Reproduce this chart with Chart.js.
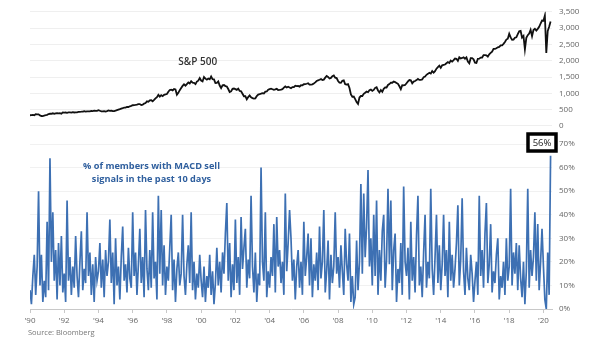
<!DOCTYPE html>
<html>
<head>
<meta charset="utf-8">
<script src="https://cdn.jsdelivr.net/npm/chart.js@4.4.1/dist/chart.umd.min.js"></script>
<style>
  body { margin: 0; background: #fff; }
  #wrap { position: relative; width: 605px; height: 341px; font-family: 'Open Sans', sans-serif; }
  canvas { position: absolute; left: 0; top: 0; }
  #source { position: absolute; left: 28px; top: 327px; font-size: 7.5px; color: #777; }
</style>
</head>
<body>
<div id="wrap">
  <canvas id="spxChart" width="605" height="341"></canvas>
  <canvas id="macdChart" width="605" height="341"></canvas>
  <div id="source">Source: Bloomberg</div>
</div>
<script>
// monthly readings, Jan 1990 .. Jun 2020
const startYear = 1990;
const yearTicks = [1990, 1992, 1994, 1996, 1998, 2000, 2002, 2004, 2006, 2008, 2010, 2012, 2014, 2016, 2018, 2020];
const spxTicks = [0, 500, 1000, 1500, 2000, 2500, 3000, 3500];
const macdTicks = [0, 10, 20, 30, 40, 50, 60, 70];
const currentReading = '56%';

const spx = [
  329, 331, 339, 331, 361, 358, 356, 323, 306, 304, 322, 330,
  343, 367, 375, 375, 390, 371, 388, 395, 388, 392, 375, 417,
  409, 413, 404, 415, 415, 408, 424, 414, 418, 419, 431, 436,
  439, 443, 452, 440, 450, 451, 448, 464, 459, 468, 462, 466,
  482, 467, 446, 451, 457, 444, 458, 475, 463, 472, 454, 459,
  470, 487, 501, 515, 533, 545, 562, 562, 584, 582, 605, 616,
  636, 640, 645, 654, 669, 671, 640, 652, 687, 705, 757, 741,
  786, 791, 757, 801, 848, 885, 954, 899, 947, 915, 955, 970,
  980, 1049, 1102, 1112, 1091, 1134, 1121, 957, 1017, 1099, 1164, 1229,
  1280, 1238, 1286, 1335, 1302, 1373, 1329, 1320, 1283, 1363, 1389, 1469,
  1394, 1366, 1499, 1452, 1421, 1455, 1431, 1518, 1437, 1429, 1315, 1320,
  1366, 1240, 1160, 1249, 1256, 1224, 1211, 1134, 1041, 1060, 1139, 1148,
  1130, 1107, 1147, 1077, 1067, 990, 912, 916, 815, 886, 936, 880,
  856, 841, 848, 917, 964, 975, 990, 1008, 996, 1051, 1058, 1112,
  1131, 1145, 1126, 1107, 1121, 1141, 1102, 1104, 1115, 1130, 1174, 1212,
  1181, 1204, 1181, 1157, 1192, 1191, 1234, 1220, 1229, 1207, 1249, 1248,
  1280, 1281, 1295, 1311, 1270, 1270, 1277, 1304, 1336, 1378, 1401, 1418,
  1438, 1407, 1421, 1482, 1531, 1503, 1455, 1474, 1527, 1549, 1481, 1468,
  1379, 1331, 1323, 1386, 1400, 1280, 1267, 1283, 1166, 969, 896, 903,
  826, 735, 676, 873, 919, 919, 987, 1021, 1057, 1036, 1096, 1115,
  1074, 1104, 1169, 1187, 1089, 1031, 1102, 1049, 1141, 1183, 1181, 1258,
  1286, 1327, 1326, 1364, 1345, 1321, 1292, 1219, 1131, 1253, 1247, 1258,
  1312, 1366, 1408, 1398, 1310, 1362, 1379, 1407, 1441, 1412, 1416, 1426,
  1498, 1515, 1569, 1598, 1631, 1606, 1686, 1633, 1682, 1757, 1806, 1848,
  1783, 1859, 1872, 1884, 1924, 1960, 1931, 2003, 1972, 2018, 2068, 2059,
  1995, 2105, 2068, 2086, 2107, 2063, 2104, 1972, 1920, 2079, 2080, 2044,
  1940, 1932, 2060, 2065, 2097, 2099, 2174, 2171, 2168, 2126, 2199, 2239,
  2279, 2364, 2363, 2384, 2412, 2423, 2470, 2472, 2519, 2575, 2648, 2674,
  2824, 2714, 2641, 2648, 2705, 2718, 2816, 2902, 2914, 2712, 2760, 2351,
  2704, 2784, 2834, 2946, 2752, 2942, 2980, 2926, 2977, 3038, 3141, 3231,
  3226, 3386, 2237, 2912, 3044, 3200
];

// % of members with MACD sell signals in the past 10 days
const macdSell = [
  8, 2, 14, 23, 6, 18, 50, 10, 23, 3, 12, 5,
  37, 8, 64, 20, 41, 12, 25, 4, 28, 10, 31, 7,
  15, 3, 46, 12, 22, 6, 18, 9, 31, 14, 5, 20,
  33, 8, 17, 11, 41, 14, 24, 6, 19, 3, 22, 12,
  16, 28, 9, 21, 5, 25, 14, 20, 38, 11, 24, 2,
  30, 10, 18, 4, 22, 35, 12, 19, 7, 26, 13, 9,
  41, 14, 24, 6, 19, 34, 11, 22, 5, 42, 17, 8,
  25, 9, 41, 13, 20, 4, 48, 15, 42, 10, 27, 6,
  18, 12, 26, 40, 8, 21, 3, 17, 24, 10, 15, 40,
  14, 6, 19, 27, 11, 41, 8, 20, 4, 15, 9, 23,
  12, 5, 18, 3, 14, 9, 23, 6, 16, 2, 11, 26,
  10, 20, 7, 24, 15, 32, 45, 12, 28, 5, 19, 8,
  38, 11, 22, 6, 39, 17, 26, 34, 9, 21, 13, 48,
  18, 7, 24, 3, 15, 10, 60, 20, 12, 41, 5, 16,
  9, 22, 14, 36, 7, 39, 18, 25, 11, 20, 6, 49,
  16, 28, 42, 30, 12, 21, 4, 18, 25, 9, 20, 6,
  37, 14, 22, 32, 10, 30, 5, 19, 12, 24, 8, 35,
  13, 20, 42, 7, 16, 29, 4, 23, 11, 18, 41, 15,
  22, 9, 27, 16, 6, 34, 19, 12, 32, 3, 14, 2,
  5, 29, 8, 20, 53, 15, 49, 22, 35, 59, 18, 30,
  10, 40, 14, 46, 6, 25, 12, 33, 40, 9, 21, 51,
  19, 46, 8, 25, 32, 3, 17, 11, 28, 6, 52, 20,
  14, 26, 4, 37, 12, 22, 7, 31, 48, 10, 18, 5,
  24, 40, 9, 20, 13, 51, 17, 6, 22, 40, 11, 27,
  8, 19, 40, 14, 25, 5, 37, 12, 23, 9, 17, 28,
  44, 10, 21, 47, 16, 6, 26, 13, 8, 23, 15, 3,
  12, 20, 6, 48, 14, 25, 9, 32, 45, 11, 19, 36,
  7, 16, 11, 23, 30, 4, 14, 9, 20, 6, 30, 12,
  18, 51, 10, 24, 15, 28, 8, 27, 13, 5, 20, 2,
  16, 51, 9, 25, 14, 22, 41, 12, 36, 8, 20, 34,
  18, 4, 0, 24, 6, 65
];

const toPoints = arr => arr.map((v, i) => ({ x: startYear + i / 12, y: v }));
const tickFont = { family: 'Open Sans', size: 8 };
const fixWidth = s => { s.width = 53; };

// --- top panel: S&P 500 ---
const spxLabel = {
  id: 'spxLabel',
  afterDraw(c) {
    const ctx = c.ctx;
    ctx.save();
    ctx.font = '600 10px "Open Sans"';
    ctx.fillStyle = '#333';
    ctx.textAlign = 'center';
    ctx.textBaseline = 'middle';
    ctx.fillText('S&P 500', c.scales.x.getPixelForValue(1999.8), c.scales.y.getPixelForValue(1950));
    ctx.restore();
  }
};

new Chart(document.getElementById('spxChart'), {
  type: 'line',
  data: {
    datasets: [{
      label: 'S&P 500',
      data: toPoints(spx),
      borderColor: '#111',
      borderWidth: 1.8,
      pointRadius: 0,
      tension: 0
    }]
  },
  options: {
    responsive: false,
    animation: false,
    layout: { padding: { left: 30, right: 0, top: 6, bottom: 215 } },
    plugins: { legend: { display: false }, tooltip: { enabled: false } },
    scales: {
      x: { type: 'linear', min: 1990, max: 2020.5, display: false },
      y: {
        position: 'right',
        min: 0, max: 3500,
        afterBuildTicks: s => { s.ticks = spxTicks.map(v => ({ value: v })); },
        afterFit: fixWidth,
        border: { display: false },
        grid: { color: '#efefef', drawTicks: false },
        ticks: { padding: 7, color: '#666', font: tickFont, callback: v => v.toLocaleString('en-US') }
      }
    }
  },
  plugins: [spxLabel]
});

// --- bottom panel: MACD sell signals ---
const macdNotes = {
  id: 'macdNotes',
  afterDraw(c) {
    const ctx = c.ctx, x = c.scales.x, y = c.scales.y, area = c.chartArea;
    ctx.save();
    ctx.font = 'bold 9.2px "Open Sans"';
    ctx.fillStyle = '#2f5f9e';
    ctx.textAlign = 'center';
    ctx.textBaseline = 'middle';
    const cx = x.getPixelForValue(1997.1);
    ctx.fillText('% of members with MACD sell', cx, y.getPixelForValue(60.7));
    ctx.fillText('signals in the past 10 days', cx, y.getPixelForValue(55.2));

    // current reading box
    const bw = 28, bh = 17;
    const bx = area.right + 4 - bw, by = area.top - 10;
    ctx.fillStyle = '#fff';
    ctx.fillRect(bx, by, bw, bh);
    ctx.lineWidth = 3.5;
    ctx.strokeStyle = '#000';
    ctx.strokeRect(bx, by, bw, bh);
    ctx.font = '9.5px "Open Sans"';
    ctx.fillStyle = '#222';
    ctx.fillText(currentReading, bx + bw / 2, by + bh / 2 + 0.5);
    ctx.restore();
  }
};

new Chart(document.getElementById('macdChart'), {
  type: 'line',
  data: {
    datasets: [{
      label: '% of members with MACD sell signals',
      data: toPoints(macdSell),
      borderColor: '#3d70b3',
      borderWidth: 1.7,
      pointRadius: 0,
      tension: 0
    }]
  },
  options: {
    responsive: false,
    animation: false,
    layout: { padding: { left: 30, right: 0, top: 144, bottom: 12 } },
    plugins: { legend: { display: false }, tooltip: { enabled: false } },
    scales: {
      x: {
        type: 'linear', min: 1990, max: 2020.5,
        afterBuildTicks: s => { s.ticks = yearTicks.map(v => ({ value: v })); },
        afterFit: s => { s.height = 20; },
        border: { color: '#c8c8c8' },
        grid: { drawOnChartArea: false, color: '#c8c8c8', tickLength: 4 },
        ticks: { padding: 3, color: '#666', font: tickFont, maxRotation: 0, autoSkip: false,
                 callback: v => "'" + String(v).slice(2) }
      },
      y: {
        position: 'right',
        min: 0, max: 70,
        afterBuildTicks: s => { s.ticks = macdTicks.map(v => ({ value: v })); },
        afterFit: fixWidth,
        border: { display: false },
        grid: { color: '#f1f1f1', drawTicks: false },
        ticks: { padding: 7, color: '#666', font: tickFont, callback: v => v + '%' }
      }
    }
  },
  plugins: [macdNotes]
});
</script>
</body>
</html>
